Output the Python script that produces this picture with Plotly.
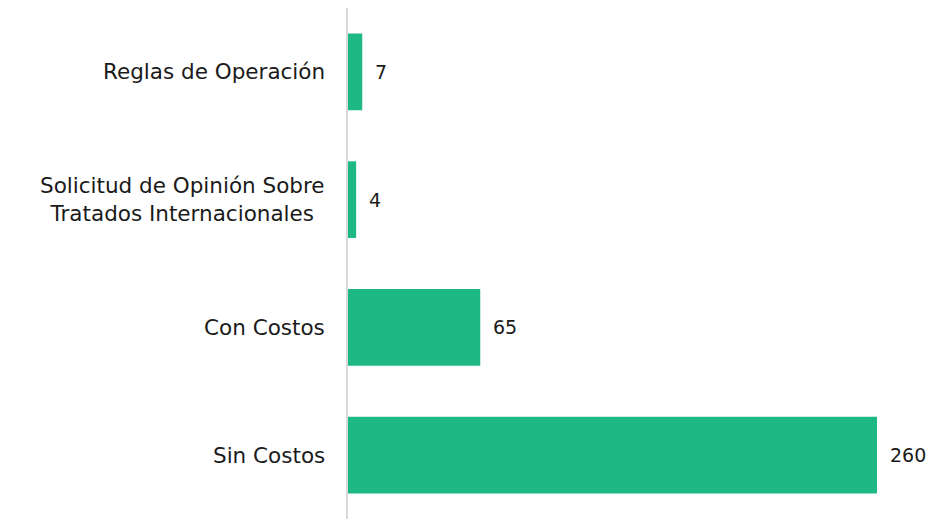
import plotly.graph_objects as go

categories = ["Reglas de Operación",
              "Solicitud de Opinión Sobre<br>Tratados Internacionales",
              "Con Costos",
              "Sin Costos"]
values = [7, 4, 65, 260]

bar_color = "#1db884"
font_family = "'DejaVu Sans', sans-serif"

fig = go.Figure()
fig.add_trace(go.Bar(
    x=values, y=categories, orientation="h",
    marker=dict(color=bar_color, line=dict(width=0)),
    width=0.6,
    hoverinfo="skip",
))

annotations = []
for c, v in zip(categories, values):
    annotations.append(dict(x=v, y=c, xref="x", yref="y", text=str(v),
                            showarrow=False, xanchor="left", xshift=11,
                            font=dict(family=font_family, size=19, color="#1a1a1a")))
    annotations.append(dict(x=0, y=c, xref="x", yref="y", text=c,
                            showarrow=False, xanchor="right", xshift=-21, align="center",
                            font=dict(family=font_family, size=21.5, color="#1a1a1a")))

fig.update_layout(
    width=918, height=511,
    margin=dict(l=340, r=49, t=0, b=0),
    paper_bgcolor="white", plot_bgcolor="white",
    showlegend=False,
    annotations=annotations,
    xaxis=dict(range=[0, 260], showgrid=False, zeroline=False, showticklabels=False,
               showline=False),
    yaxis=dict(autorange="reversed", showticklabels=False, showgrid=False,
               showline=True, linecolor="#d9d9d9", linewidth=2, ticks=""),
)

fig.write_html("out.html")
